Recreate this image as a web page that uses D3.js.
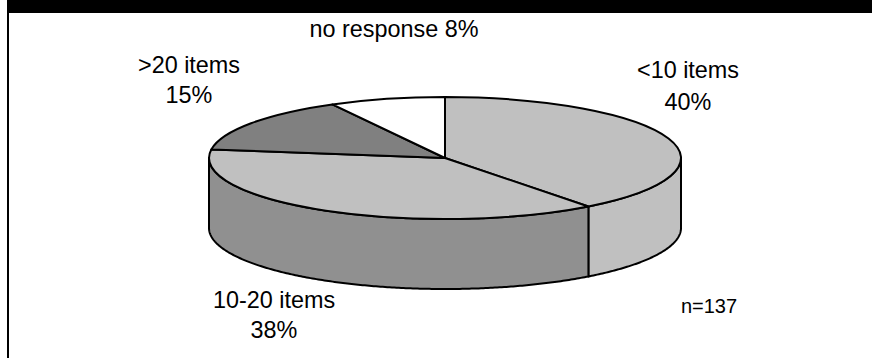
<!DOCTYPE html>
<html>
<head>
<meta charset="utf-8">
<style>
html,body{margin:0;padding:0;background:#fff;}
svg{display:block;}
text{font-family:"Liberation Sans",Arial,sans-serif;fill:#000;font-size:23.4px;text-anchor:middle;}
</style>
</head>
<body>
<svg id="chart" width="872" height="358"></svg>
<script src="https://cdn.jsdelivr.net/npm/d3@7/dist/d3.min.js"></script>
<script>
// Survey responses: number of items
const categories = ["<10 items", "10-20 items", ">20 items", "no response"];
const percents = [40, 38, 15, 8];
const topColors = ["#c0c0c0", "#c0c0c0", "#808080", "#ffffff"];
const sideColors = ["#c0c0c0", "#909090", "#808080", "#ffffff"];
const sampleNote = "n=137";

const cx = 445, cy = 158, rx = 236, ry = 61, depth = 70;
const svg = d3.select("#chart");

// Page frame: heavy band on top, thin rule down the left
svg.append("rect").attr("x", 7).attr("y", 0).attr("width", 865).attr("height", 13).attr("fill", "#000");
svg.append("line").attr("x1", 8).attr("x2", 8).attr("y1", 0).attr("y2", 358)
  .attr("stroke", "#000").attr("stroke-width", 2);

const slices = d3.pie().sort(null)(percents);

// Tilted pie: angle measured clockwise from twelve o'clock
const px = a => cx + rx * Math.sin(a);
const py = a => cy - ry * Math.cos(a);
const line = d3.line();

// Wall segments along the visible front of the rim
const frontStart = Math.PI / 2, frontEnd = 3 * Math.PI / 2;
slices.forEach((s, i) => {
  const a0 = Math.max(s.startAngle, frontStart), a1 = Math.min(s.endAngle, frontEnd);
  if (a1 <= a0) return;
  const arcAngles = d3.range(a0, a1, 0.01).concat([a1]);
  const upper = arcAngles.map(a => [px(a), py(a)]);
  const lower = arcAngles.map(a => [px(a), py(a) + depth]).reverse();
  svg.append("path")
    .attr("d", line(upper.concat(lower)) + "Z")
    .attr("fill", sideColors[i])
    .attr("stroke", "#000").attr("stroke-width", 2).attr("stroke-linejoin", "round");
});

// Top face wedges
const arc = d3.arc().innerRadius(0).outerRadius(rx);
svg.append("g")
  .attr("transform", `translate(${cx},${cy}) scale(1,${ry / rx})`)
  .selectAll("path").data(slices).join("path")
  .attr("d", arc)
  .attr("fill", (d, i) => topColors[i])
  .attr("stroke", "#000").attr("stroke-width", 2)
  .attr("stroke-linejoin", "round")
  .attr("vector-effect", "non-scaling-stroke");

// Category labels
const labelRows = [
  {x: 688, y: [78, 110], t: [categories[0], percents[0] + "%"]},
  {x: 274, y: [308, 338], t: [categories[1], percents[1] + "%"]},
  {x: 189, y: [73, 103], t: [categories[2], percents[2] + "%"]},
  {x: 394, y: [37], t: [categories[3] + " " + percents[3] + "%"]}
];
labelRows.forEach(r => r.t.forEach((t, k) => {
  svg.append("text").attr("x", r.x).attr("y", r.y[k]).text(t);
}));

svg.append("text").attr("x", 709).attr("y", 313).style("font-size", "20px").text(sampleNote);
</script>
</body>
</html>
